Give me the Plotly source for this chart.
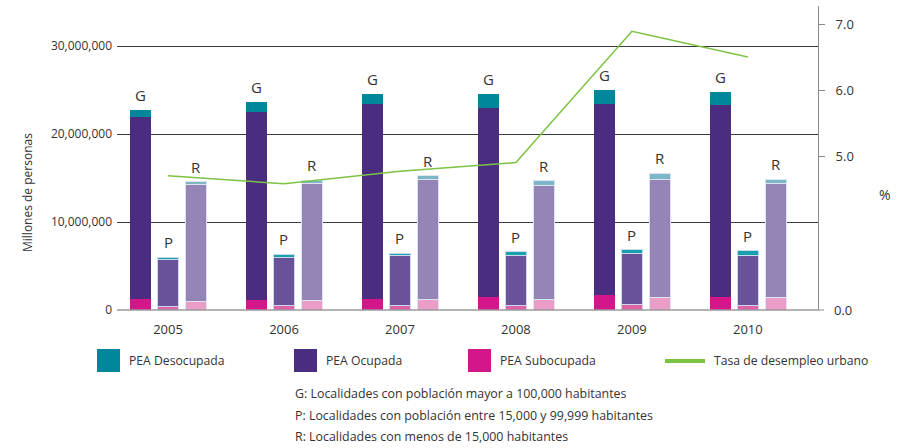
import plotly.graph_objects as go

# ---------------- data ----------------
years = ["2005", "2006", "2007", "2008", "2009", "2010"]
groups = ["G", "P", "R"]

# segment values (persons)
G_sub = [1.20e6, 1.17e6, 1.29e6, 1.43e6, 1.74e6, 1.51e6]
G_ocu = [20.70e6, 21.33e6, 22.11e6, 21.57e6, 21.70e6, 21.82e6]
G_des = [0.80e6, 1.10e6, 1.20e6, 1.60e6, 1.59e6, 1.47e6]

P_sub = [0.37e6, 0.52e6, 0.49e6, 0.49e6, 0.60e6, 0.49e6]
P_ocu = [5.35e6, 5.42e6, 5.65e6, 5.76e6, 5.80e6, 5.76e6]
P_des = [0.30e6, 0.42e6, 0.30e6, 0.35e6, 0.45e6, 0.49e6]

R_sub = [1.02e6, 1.06e6, 1.17e6, 1.14e6, 1.43e6, 1.43e6]
R_ocu = [13.26e6, 13.26e6, 13.68e6, 13.06e6, 13.41e6, 12.96e6]
R_des = [0.27e6, 0.45e6, 0.41e6, 0.46e6, 0.68e6, 0.49e6]

tasa = [4.70, 4.58, 4.77, 4.90, 6.89, 6.50]

y_ticks = [0, 10e6, 20e6, 30e6]
y_ticktext = ["0", "10,000,000", "20,000,000", "30,000,000"]
y2_ticks = [5.0, 6.0, 7.0]
y2_ticktext = ["5.0", "6.0", "7.0"]

legend_names = ["PEA Desocupada", "PEA Ocupada", "PEA Subocupada", "Tasa de desempleo urbano"]
notes = [
    "G: Localidades con población mayor a 100,000 habitantes",
    "P: Localidades con población entre 15,000 y 99,999 habitantes",
    "R: Localidades con menos de 15,000 habitantes",
]

# ---------------- style ----------------
FONT = "Open Sans"
TXT = "#333333"
colors = {
    "G": {"sub": "#d4168b", "ocu": "#4a2c80", "des": "#00879b", "line": None},
    "P": {"sub": "#de62a6", "ocu": "#6a529a", "des": "#1a9fb1", "line": "#c9dbea"},
    "R": {"sub": "#e99dc7", "ocu": "#9585b6", "des": "#7db7c7", "line": "#dbe4f0"},
}
offsets = {"G": -0.237, "P": 0.0, "R": 0.241}
BAR_W = 0.181

data = {
    "G": (G_sub, G_ocu, G_des),
    "P": (P_sub, P_ocu, P_des),
    "R": (R_sub, R_ocu, R_des),
}

# plot area in pixels
W, H = 907, 448
L, R_, T, B = 117, 818, 6, 310


def pxx(x):
    return (x - L) / (R_ - L)


def pxy(y):
    return (B - y) / (B - T)


fig = go.Figure()

for g in groups:
    sub, ocu, des = data[g]
    xs = [i + offsets[g] for i in range(len(years))]
    c = colors[g]
    lw = 0 if c["line"] is None else 1
    lc = c["line"] or "rgba(0,0,0,0)"
    for vals, key in [(sub, "sub"), (ocu, "ocu"), (des, "des")]:
        fig.add_trace(go.Bar(
            x=xs, y=vals, width=BAR_W,
            marker=dict(color=c[key], line=dict(width=lw, color=lc)),
            showlegend=False, hoverinfo="skip",
        ))
    totals = [a + b + d for a, b, d in zip(sub, ocu, des)]
    for x, t in zip(xs, totals):
        fig.add_annotation(x=x, y=t, text=g, showarrow=False, xref="x", yref="y",
                           yanchor="bottom", yshift=3,
                           font=dict(family=FONT, size=15, color=TXT))

fig.add_trace(go.Scatter(
    x=list(range(len(years))), y=tasa, yaxis="y2", mode="lines",
    line=dict(color="#7cc243", width=1.5), showlegend=False, hoverinfo="skip",
))

fig.update_layout(
    width=W, height=H,
    margin=dict(l=L, r=W - R_, t=T, b=H - B),
    barmode="stack",
    paper_bgcolor="white", plot_bgcolor="white",
    font=dict(family=FONT, size=13, color=TXT),
    showlegend=False,
    xaxis=dict(
        range=[-0.44, 5.605], tickmode="array",
        tickvals=list(range(len(years))), ticktext=years,
        showgrid=False, zeroline=False, showline=False, ticks="",
        ticklabelstandoff=10,
        tickfont=dict(family=FONT, size=13, color=TXT),
    ),
    yaxis=dict(
        range=[0, (B - T) / 8.8 * 1e6], tickmode="array",
        tickvals=y_ticks, ticktext=y_ticktext,
        showgrid=True, gridcolor="#3a3a3a", gridwidth=1,
        zeroline=False, showline=False, ticks="",
        ticklabelstandoff=4,
        tickfont=dict(family=FONT, size=12, color=TXT),
    ),
    yaxis2=dict(
        overlaying="y", side="right",
        range=[5 - 154 / 66, 5 + 150 / 66], tickmode="array",
        tickvals=y2_ticks, ticktext=y2_ticktext,
        showgrid=False, zeroline=False,
        showline=True, linecolor="#8a8a8a", linewidth=1,
        ticks="outside", ticklen=6, tickcolor="#8a8a8a",
        ticklabelstandoff=8,
        tickfont=dict(family=FONT, size=13, color=TXT),
    ),
)

# bottom baseline (grey) and "0.0" label / tick on right axis
fig.add_shape(type="line", xref="paper", yref="paper", x0=0, x1=1, y0=0, y1=0,
              line=dict(color="#9a9a9a", width=1.5))
fig.add_shape(type="line", xref="paper", yref="paper", x0=1, x1=pxx(R_ + 6), y0=0, y1=0,
              line=dict(color="#8a8a8a", width=1))
fig.add_annotation(xref="paper", yref="paper", x=pxx(R_ + 14), y=0, text="0.0",
                   showarrow=False, xanchor="left", yanchor="middle",
                   font=dict(family=FONT, size=13, color=TXT))

# axis titles
fig.add_annotation(xref="paper", yref="paper", x=pxx(28), y=pxy(193),
                   text="Millones de personas", textangle=-90, showarrow=False,
                   xanchor="center", yanchor="middle",
                   font=dict(family=FONT, size=12, color=TXT))
fig.add_annotation(xref="paper", yref="paper", x=pxx(885), y=pxy(194),
                   text="%", showarrow=False, xanchor="center", yanchor="middle",
                   font=dict(family=FONT, size=14, color=TXT))

# custom legend
swatches = [(97, colors["G"]["des"]), (294, colors["G"]["ocu"]), (468, colors["G"]["sub"])]
for (x0, col), name in zip(swatches, legend_names[:3]):
    fig.add_shape(type="rect", xref="paper", yref="paper",
                  x0=pxx(x0), x1=pxx(x0 + 23), y0=pxy(372), y1=pxy(349),
                  fillcolor=col, line=dict(width=0))
    fig.add_annotation(xref="paper", yref="paper", x=pxx(x0 + 30), y=pxy(361),
                       text=name, showarrow=False, xanchor="left", yanchor="middle",
                       font=dict(family=FONT, size=12.2, color=TXT))
fig.add_shape(type="line", xref="paper", yref="paper",
              x0=pxx(665), x1=pxx(705), y0=pxy(361), y1=pxy(361),
              line=dict(color="#7cc243", width=4))
fig.add_annotation(xref="paper", yref="paper", x=pxx(712), y=pxy(361),
                   text=legend_names[3], showarrow=False, xanchor="left", yanchor="middle",
                   font=dict(family=FONT, size=12.2, color=TXT))

# notes
for i, n in enumerate(notes):
    fig.add_annotation(xref="paper", yref="paper", x=pxx(293), y=pxy(393 + 22 * i),
                       text=n, showarrow=False, xanchor="left", yanchor="middle",
                       font=dict(family=FONT, size=12.4, color=TXT))

fig.write_html("out.html", config={"displayModeBar": False},
               post_script="document.body.style.margin='0px';")
